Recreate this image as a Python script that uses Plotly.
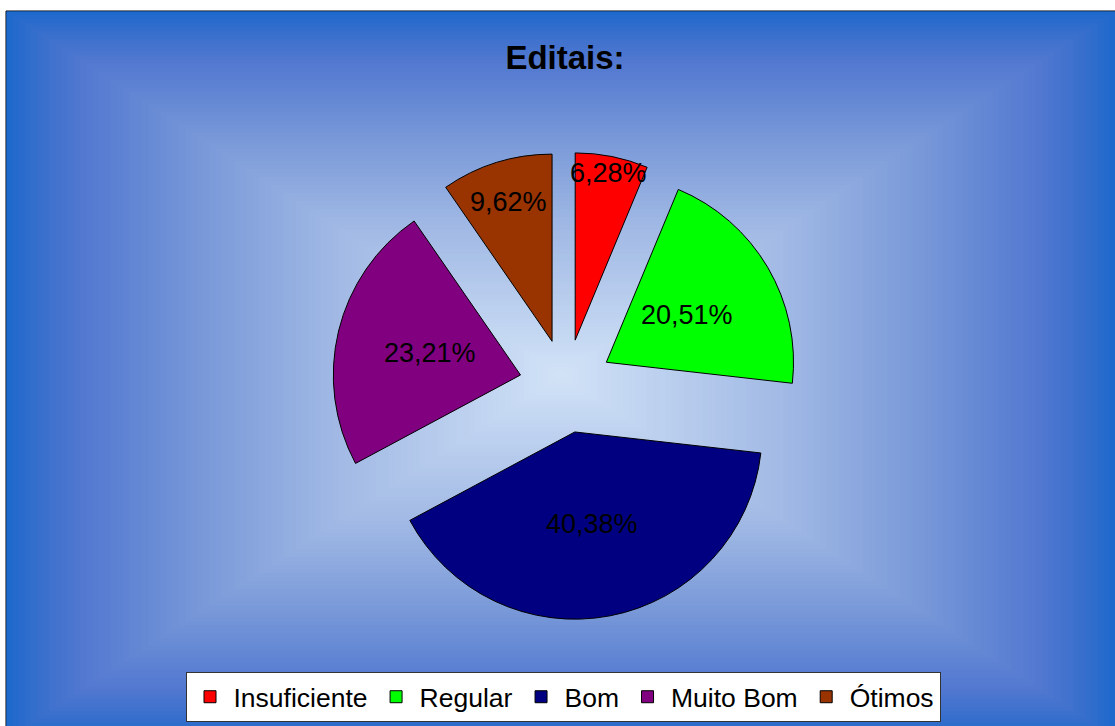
import math
import plotly.graph_objects as go

# ---- data ----
categories = ["Insuficiente", "Regular", "Bom", "Muito Bom", "Ótimos"]
values = [6.28, 20.51, 40.38, 23.21, 9.62]
value_labels = ["6,28%", "20,51%", "40,38%", "23,21%", "9,62%"]
title_text = "Editais:"

# ---- style ----
colors = ["#FF0000", "#00FF00", "#000080", "#800080", "#993300"]
pull = 0.25
label_radius = [0.91, 0.5, 0.5, 0.5, 0.78]   # fraction of radius for label placement
W, H = 1115, 726
FONT = "Liberation Sans, Arial, sans-serif"

def px2x(px):
    return px / W

def px2y(py):
    return 1 - py / H

# pie domain (pixels)
dom_x = [px2x(332), px2x(800)]
dom_y = [px2y(620), px2y(152)]

fig = go.Figure()
fig.add_trace(go.Pie(
    labels=categories,
    values=values,
    sort=False,
    direction="clockwise",
    rotation=0,
    pull=[pull] * len(values),
    marker=dict(colors=colors, line=dict(color="black", width=1)),
    textinfo="none",
    hoverinfo="label+percent",
    domain=dict(x=dom_x, y=dom_y),
))

# ---- background gradient (rectangular, from center) ----
stops = [
    (0.0, (210, 227, 247)),
    (0.41, (160, 184, 228)),
    (0.65, (120, 152, 216)),
    (0.87, (80, 119, 208)),
    (0.95, (52, 110, 204)),
    (1.0, (26, 104, 204)),
]

def grad_color(t):
    for (t0, c0), (t1, c1) in zip(stops[:-1], stops[1:]):
        if t <= t1:
            f = (t - t0) / (t1 - t0) if t1 > t0 else 0
            c = [round(a + (b - a) * f) for a, b in zip(c0, c1)]
            return "rgb(%d,%d,%d)" % tuple(c)
    return "rgb(%d,%d,%d)" % stops[-1][1]

shapes = []
gcx, gcy, hw, hh = 561, 375, 555, 364
# outer frame
shapes.append(dict(type="rect", xref="paper", yref="paper", layer="below",
                   x0=px2x(6), x1=1.02, y0=-0.03, y1=px2y(11),
                   fillcolor=grad_color(1.0), line=dict(color="black", width=1)))
N = 90
for k in range(N, 0, -1):
    t = k / N
    x0 = max(gcx - t * hw, 6.5)
    y0 = max(gcy - t * hh, 11.5)
    shapes.append(dict(type="rect", xref="paper", yref="paper", layer="below",
                       x0=px2x(x0), x1=px2x(gcx + t * hw),
                       y0=px2y(gcy + t * hh), y1=px2y(y0),
                       fillcolor=grad_color(t - 0.5 / N), line=dict(width=0)))

# ---- labels computed from slice angles ----
cx = W * (dom_x[0] + dom_x[1]) / 2
cy = H * (1 - (dom_y[0] + dom_y[1]) / 2)
R = min(W * (dom_x[1] - dom_x[0]), H * (dom_y[1] - dom_y[0])) / 2 / (1 + pull)
total = sum(values)
annotations = []
cum = 0.0
for v, lab, f in zip(values, value_labels, label_radius):
    mid = (cum + v / 2) / total * 2 * math.pi
    cum += v
    d = (pull + f) * R
    lx = cx + d * math.sin(mid)
    ly = cy - d * math.cos(mid)
    annotations.append(dict(x=px2x(lx), y=px2y(ly), xref="paper", yref="paper",
                            text=lab, showarrow=False,
                            font=dict(family=FONT, size=27, color="black"),
                            xanchor="center", yanchor="middle"))

fig.update_layout(
    width=W, height=H,
    margin=dict(l=0, r=0, t=0, b=0, autoexpand=False),
    paper_bgcolor="white",
    plot_bgcolor="white",
    shapes=shapes,
    annotations=annotations,
    title=dict(text=title_text, x=px2x(565), xanchor="center",
               y=px2y(57), yanchor="middle",
               font=dict(family=FONT, size=33, color="black", weight="bold")),
    showlegend=True,
    legend=dict(orientation="h", x=px2x(563), xanchor="center",
                y=px2y(722), yanchor="bottom",
                bgcolor="white", bordercolor="#333333", borderwidth=1,
                itemwidth=37,
                font=dict(family=FONT, size=26.5, color="black"),
                traceorder="normal"),
)

fig.write_html("out.html",
               config={"displayModeBar": False},
               post_script="document.body.style.margin='0';document.body.style.overflow='hidden';")
